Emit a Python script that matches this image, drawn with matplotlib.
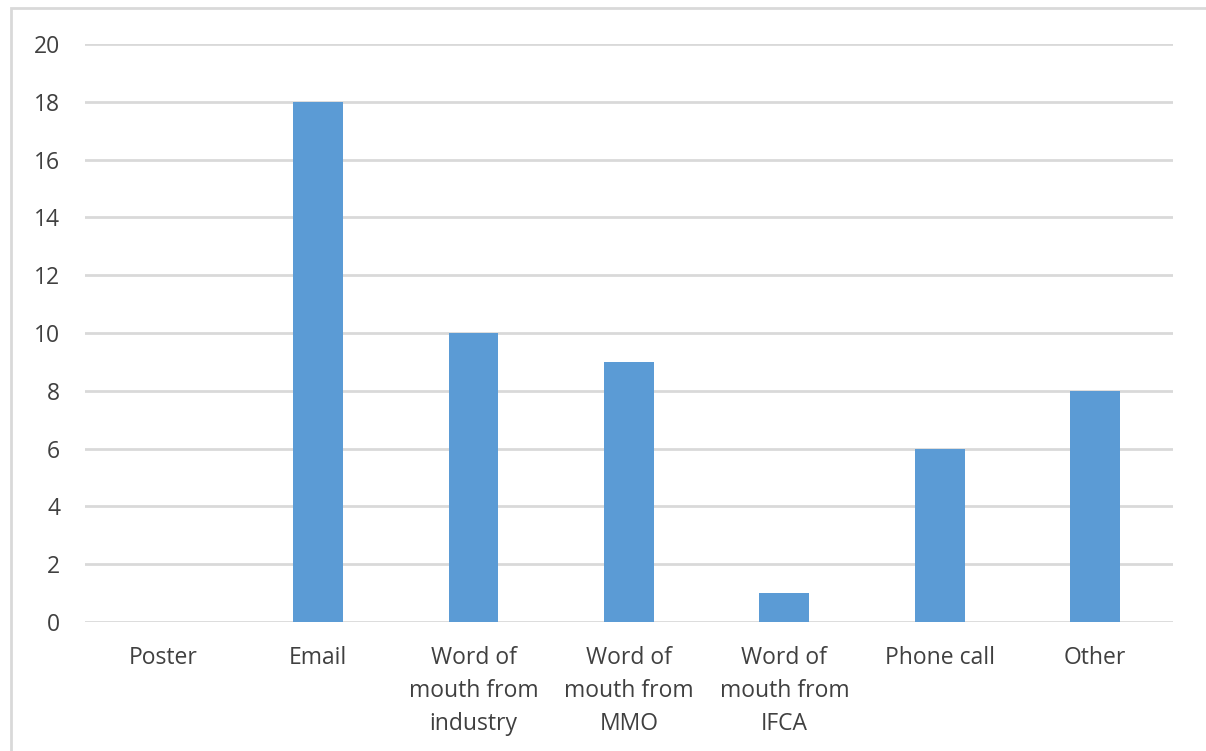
import matplotlib
matplotlib.use('Agg')
import matplotlib.pyplot as plt
from matplotlib.patches import Rectangle

# 資料
categories = ['Poster', 'Email', 'Word of\nmouth from\nindustry', 'Word of\nmouth from\nMMO',
              'Word of\nmouth from\nIFCA', 'Phone call', 'Other']
values = [0, 18, 10, 9, 1, 6, 8]
yticks = [0, 2, 4, 6, 8, 10, 12, 14, 16, 18, 20]

plt.rcParams['font.family'] = ['Open Sans', 'DejaVu Sans']

fig = plt.figure(figsize=(12.06, 7.51), dpi=100)
ax = fig.add_axes([0.0705, 0.1718, 0.902, 0.7696])

x = list(range(len(categories)))
ax.bar(x, values, width=0.32, color='#5b9bd5', zorder=3)

ax.set_xlim(-0.5, len(categories) - 0.5)
ax.set_ylim(0, 20)
ax.set_yticks(yticks)
ax.set_xticks(x)
ax.set_xticklabels(categories, linespacing=1.5)

ax.grid(axis='y', color='#d9d9d9', linewidth=2, zorder=0)
for s in ax.spines.values():
    s.set_visible(False)
ax.tick_params(axis='both', length=0, labelsize=16.5, colors='#404040')
ax.tick_params(axis='y', pad=18)
ax.tick_params(axis='x', pad=17.5)

# 外框
fig.add_artist(Rectangle((0.0091, -0.1), 1.2, 1.089, transform=fig.transFigure,
                         fill=False, edgecolor='#d9d9d9', linewidth=2))

fig.savefig('out.png', dpi=100)
